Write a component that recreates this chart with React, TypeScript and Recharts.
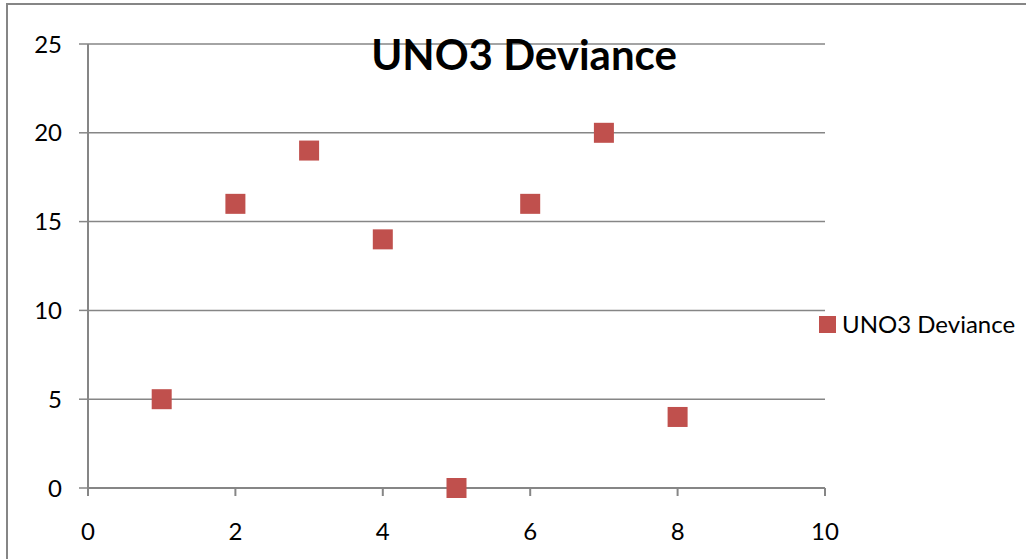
import React from "react";
import {
  ScatterChart,
  Scatter,
  XAxis,
  YAxis,
  CartesianGrid,
  Legend,
} from "recharts";

const seriesName = "UNO3 Deviance";
const xValues = [1, 2, 3, 4, 5, 6, 7, 8];
const yValues = [5, 16, 19, 14, 0, 16, 20, 4];
const xTicks = [0, 2, 4, 6, 8, 10];
const yTicks = [0, 5, 10, 15, 20, 25];

const data = xValues.map((x, i) => ({ x, y: yValues[i] }));

const GRAY = "#868686";
const RED = "#C0504D";
const FONT = "Lato, 'Open Sans', sans-serif";

const SquareMarker = (props: any) => {
  const { cx, cy } = props;
  if (cx == null || cy == null) return null;
  return <rect x={cx - 10} y={cy - 10} width={20} height={20} fill={RED} />;
};

const LegendContent = (props: any) => {
  const items = props.payload || [];
  return (
    <div style={{ fontFamily: FONT }}>
      {items.map((it: any, i: number) => (
        <div
          key={i}
          style={{ display: "flex", alignItems: "center", whiteSpace: "nowrap" }}
        >
          <span
            style={{
              display: "inline-block",
              width: 17,
              height: 17,
              background: it.color || RED,
              marginRight: 6,
            }}
          />
          <span style={{ color: "#000", fontSize: 24, lineHeight: "28px" }}>
            {it.value}
          </span>
        </div>
      ))}
    </div>
  );
};

export default function App() {
  return (
    <div
      style={{
        position: "absolute",
        left: 0,
        top: 0,
        width: 1026,
        height: 559,
        overflow: "hidden",
        background: "#fff",
        fontFamily: FONT,
      }}
    >
      <div
        style={{
          position: "absolute",
          left: 6,
          top: 3,
          width: 1100,
          height: 700,
          borderLeft: `2px solid ${GRAY}`,
          borderTop: `2px solid ${GRAY}`,
        }}
      />
      <div style={{ position: "absolute", left: 0, top: 0 }}>
        <ScatterChart
          width={1026}
          height={559}
          margin={{ top: 44, right: 201, bottom: 41, left: 0 }}
        >
          <CartesianGrid
            horizontal={true}
            vertical={false}
            stroke={GRAY}
            strokeWidth={1.5}
          />
          <XAxis
            type="number"
            dataKey="x"
            domain={[0, 10]}
            ticks={xTicks}
            height={30}
            axisLine={{ stroke: GRAY, strokeWidth: 2 }}
            tickLine={{ stroke: GRAY, strokeWidth: 2 }}
            tickSize={8}
            tickMargin={27}
            tick={{ fill: "#000", fontSize: 24, fontFamily: FONT }}
            interval={0}
          />
          <YAxis
            type="number"
            dataKey="y"
            domain={[0, 25]}
            ticks={yTicks}
            width={88}
            axisLine={{ stroke: GRAY, strokeWidth: 2 }}
            tickLine={{ stroke: GRAY, strokeWidth: 1.5 }}
            tickSize={9}
            tickMargin={17}
            tick={{ fill: "#000", fontSize: 24, fontFamily: FONT }}
            interval={0}
          />
          <Legend
            layout="horizontal"
            align="center"
            verticalAlign="middle"
            content={LegendContent}
            wrapperStyle={{
              left: 819,
              top: 310,
              width: 205,
              right: "auto",
              bottom: "auto",
            }}
          />
          <Scatter
            name={seriesName}
            data={data}
            fill={RED}
            shape={SquareMarker}
            isAnimationActive={false}
          />
        </ScatterChart>
      </div>
      <div
        style={{
          position: "absolute",
          left: 524,
          top: 28,
          transform: "translateX(-50%)",
          fontSize: 42,
          fontWeight: "bold",
          fontFamily: FONT,
          color: "#000",
          whiteSpace: "nowrap",
          lineHeight: "52px",
        }}
      >
        {seriesName}
      </div>
    </div>
  );
}
